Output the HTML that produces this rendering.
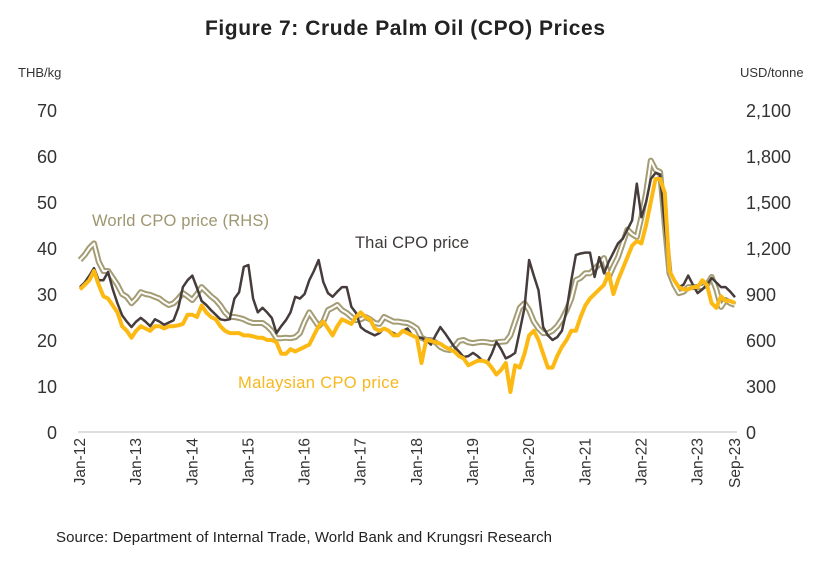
<!DOCTYPE html>
<html><head><meta charset="utf-8"><style>
body{margin:0;background:#fff;width:834px;height:568px;overflow:hidden;font-family:"Liberation Sans",sans-serif}
</style></head><body>
<svg id="chart" width="834" height="568" xmlns="http://www.w3.org/2000/svg" font-family="Liberation Sans, sans-serif">
<text x="405" y="35" text-anchor="middle" font-size="21" font-weight="bold" fill="#222" textLength="400">Figure 7: Crude Palm Oil (CPO) Prices</text>
<text x="18" y="77" font-size="13" fill="#333">THB/kg</text>
<text x="740" y="77" font-size="13" fill="#333">USD/tonne</text>
<g id="axes"></g>
<g id="series"></g>
<text x="92" y="226" font-size="16.5" fill="#9E9670" textLength="177">World CPO price (RHS)</text>
<text x="355" y="248" font-size="16.5" fill="#3f3a3a" textLength="114">Thai CPO price</text>
<text x="238" y="388" font-size="16.5" fill="#F7B71D" textLength="161">Malaysian  CPO price</text>
<text x="56" y="542" font-size="15" fill="#222" textLength="496">Source: Department of Internal Trade, World Bank and Krungsri Research</text>
</svg>
<script>
const leftTicks=[0,10,20,30,40,50,60,70];
const rightTicks=["0","300","600","900","1,200","1,500","1,800","2,100"];
const xLabels=["Jan-12","Jan-13","Jan-14","Jan-15","Jan-16","Jan-17","Jan-18","Jan-19","Jan-20","Jan-21","Jan-22","Jan-23","Sep-23"];
const xLabelMonths=[0,12,24,36,48,60,72,84,96,108,120,132,140];
const thai=[31.5,32.5,34,35.6,33,33,34.8,31,28,25.4,24,22.8,24,24.8,24,23,24.5,24,23.3,23.8,24.3,27,31.5,33,34,31.3,28.5,27.6,26.5,25.5,24.5,24.3,24.5,29,30.4,35.9,36.3,29,26,27,26,24.8,21.5,23,24.3,26,29.4,29,30,33,35,37.4,32.6,30.2,29.4,30.5,31.5,31.5,27.2,25.9,22.8,22,21.5,21,21.5,22.5,22,21.5,21,22,22.5,21,20.6,20.5,20,19,21,22.8,21.5,20,18.5,17.5,16.3,16.5,17.2,16.5,15.5,15,17,19.6,18,16,16.5,17.2,22,27,37.4,34,30.8,22.8,21,20,20.6,22,26.5,33,38.5,38.8,39,39,33.7,38,34.5,37,39,41,42,44,46,54,46.7,50,55,56.3,56,45,35.2,33,31.5,32,34,32,30.2,31,32,33.5,32.5,31.5,31.5,30.5,29.3];
const malaysian=[31,32,33,35,32,29.5,29,27.5,26,23,22,20.5,22,23,22.5,22,23,23,22.5,23,23,23.2,23.5,25.5,25.5,25,27.5,26,25,24.5,23,22,21.5,21.5,21.5,21,21,20.8,20.5,20.5,20,20,19.5,17,17,18,17.5,18,18.5,19,21,23,24,22.5,21,23,24.5,24,23.5,25,26,25,24.5,22.5,22,22.5,22,21,21,22,21.5,21,20.5,15,20,19.8,19.5,19.2,18.5,18,17.5,16.5,16,14.5,15,15.5,15.5,15.2,14,12.5,13.5,15,8.7,14.5,14,17,21,22,20,17,14,14,16.5,18.5,20,22,22,25,27.5,29,30,31,32,34.5,30,33,35.5,38,40.5,41.5,41,45,50,55,55,52,35,33,31.5,31,31,31.5,31.5,33,32,28,27,29.5,28.5,28.5,28];
const worldUsd=[1122,1155,1200,1230,1110,1050,1050,1005,960,900,882,840,870,912,900,894,882,870,846,828,840,870,906,885,861,900,945,915,885,861,825,780,750,750,744,735,720,711,711,711,690,660,612,612,615,612,618,645,720,780,735,690,720,795,810,828,795,777,750,729,735,750,735,711,705,750,735,720,720,714,711,696,675,615,600,600,585,555,540,534,555,594,600,585,579,585,588,585,579,585,588,591,630,720,810,840,795,720,675,645,645,660,690,735,795,870,990,1005,1035,1035,1065,1095,1134,1011,1080,1140,1230,1320,1290,1272,1401,1560,1770,1710,1695,1350,1035,960,906,915,945,945,945,945,960,1011,930,816,861,840,828];

const NS="http://www.w3.org/2000/svg";
const X0=80,X1=735,MMAX=140,Y0=432,Y1=110;
const xOf=m=>X0+(X1-X0)*m/MMAX;
const yL=v=>Y0-(Y0-Y1)*v/70;
const yR=v=>Y0-(Y0-Y1)*v/2100;
function mk(tag,attrs,parent){const e=document.createElementNS(NS,tag);for(const k in attrs)e.setAttribute(k,attrs[k]);parent.appendChild(e);return e;}
const axes=document.getElementById('axes');
leftTicks.forEach((v,i)=>{
  const t=mk('text',{x:57,y:yL(v)+7,'text-anchor':'end','font-size':18,fill:'#333'},axes);
  t.textContent=v;
  
  
  const r=mk('text',{x:746,y:yL(v)+7,'font-size':18,fill:'#333'},axes);
  r.textContent=rightTicks[i];
  
  
});
const base=mk('line',{x1:X0-2,x2:X1+2,y1:Y0,y2:Y0,stroke:'#bfbfbf','stroke-width':1},axes);


xLabels.forEach((lab,i)=>{
  const x=xOf(xLabelMonths[i]);
  const t=mk('text',{x:0,y:0,'text-anchor':'end','font-size':15.5,fill:'#333',transform:`translate(${x+5},${Y0+6}) rotate(-90)`},axes);
  t.textContent=lab;
  
  
});
const ser=document.getElementById('series');
function path(arr,yf){return arr.map((v,i)=>(i?'L':'M')+xOf(i).toFixed(1)+','+yf(v).toFixed(1)).join('');}
const w1=mk('path',{d:path(worldUsd,yR),fill:'none',stroke:'#A39C74','stroke-width':6,'stroke-linejoin':'round'},ser);


const w2=mk('path',{d:path(worldUsd,yR),fill:'none',stroke:'#fff','stroke-width':2,'stroke-linejoin':'round'},ser);


const th=mk('path',{d:path(thai,yL),fill:'none',stroke:'#463c3c','stroke-width':2.5,'stroke-linejoin':'round'},ser);


const ma=mk('path',{d:path(malaysian,yL),fill:'none',stroke:'#FDB913','stroke-width':4,'stroke-linejoin':'round'},ser);


</script>
</body></html>
